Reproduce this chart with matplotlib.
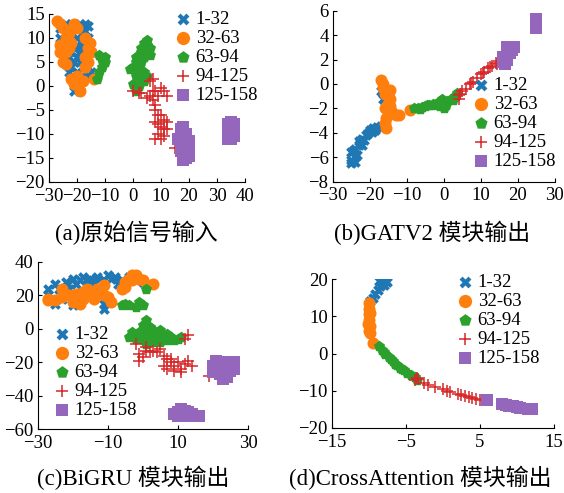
import numpy as np
import matplotlib

matplotlib.use("Agg")
import matplotlib.pyplot as plt

plt.rcParams["font.family"] = ["Liberation Serif", "Noto Sans CJK SC"]
plt.rcParams["font.size"] = 13.5
plt.rcParams["axes.unicode_minus"] = True

labels = ["1-32", "32-63", "63-94", "94-125", "125-158"]
colors = ["#1f77b4", "#ff7f0e", "#2ca02c", "#d62728", "#9467bd"]
markers = ["X", "o", "p", "+", "s"]
sizes = [60, 75, 70, 70, 65]

# (a) raw signal input
a_c1 = [(-26, 12), (-24, 13), (-22, 13), (-19, 13), (-17, 13), (-16, 12.5), (-26, 10),
        (-24, 9), (-22, 11), (-20, 10), (-18, 11), (-16, 10), (-25, 7), (-23, 6),
        (-21, 8), (-19, 7), (-17, 8), (-15, 7), (-22, 4), (-20, 3), (-18, 4), (-16, 2),
        (-21, 1), (-19, 0), (-21, -1), (-18, 2), (-24, 8), (-20, 6), (-17, 5), (-15, 3),
        (-23, 12), (-20, 12), (-18, 9), (-22, 7), (-20, 8.5), (-19, 5), (-23, 3),
        (-16, 4), (-17, 11.5), (-21, 5)]
a_c2 = [(-26, 13), (-25, 12), (-23, 11), (-24, 10), (-22, 9), (-25, 8), (-26, 7),
        (-24, 7), (-25, 5), (-24, 4.5), (-17, 10), (-16, 8), (-15, 7), (-17, 6),
        (-17, 4), (-16, 5), (-20, 2), (-19, 1), (-21, 0.5), (-19, -1), (-18, 1),
        (-14, 1.5), (-21, 13), (-20, 12), (-27, 13.5), (-23, 8), (-15.5, 9),
        (-26, 8.5), (-22, 1.5)]
a_c3 = [(-12, 6.5), (-11, 5.5), (-10, 5), (-11, 4), (-12, 3), (-13, 1.5), (-10, 6),
        (4, 9), (5, 8.5), (6, 8), (3, 8), (5, 7), (2, 6.5), (4, 6), (6, 6.5), (1, 5),
        (3, 5), (0, 4), (-1, 3.5), (2, 3), (4, 3), (1, 2), (3, 1.5), (5, 2), (0, 0.5),
        (2, 0), (4, 1), (1, -1), (3, 7), (2, 4), (5, 9.5), (1, 6)]
a_c4 = [(0, -1), (2, -1.5), (3, -1.5), (6, -2), (7, -1), (8, -1), (9, -2), (10, -0.5),
        (11, -1), (12, -2), (5, -2.5), (7, -3), (8, -4), (6, 1), (7, 1.5), (8, -5),
        (9, -6), (10, -6), (11, -7), (9, -8), (8, -7.5), (10, -8.5), (12, -7.5),
        (11, -9), (9, -10), (10, -11), (8, -11), (11, -10.5), (12, -9), (15, -13)]
a_c5 = [(17, -9), (18, -8.5), (17, -10), (18, -11), (19, -11), (17, -12), (18, -13),
        (19, -12.5), (20, -13), (18, -14), (19, -15), (20, -14.5), (16, -11),
        (20, -11.5), (18, -15.5), (17, -13.5), (19, -10), (34, -8), (35, -7.5),
        (36, -8), (34, -9.5), (35, -10), (36, -9), (34, -11), (35, -11), (36, -10.5)]

# (b) GATV2 output
b_c1 = [(-25, -6.2), (-25, -5.6), (-24, -6), (-24, -5.3), (-23.5, -5.8), (-23, -5),
        (-22.5, -4.8), (-22, -4.5), (-21, -4.2), (-20.5, -4), (-20, -3.8), (-19, -3.6),
        (-18, -3.5), (-17, -3.4), (-17, -0.6), (-16.5, -1.2), (-25, -6.5),
        (-24.5, -5.5), (-23, -4.7), (-21.5, -4.6), (-19.5, -3.9), (-18.5, -3.8),
        (-24, -6.4), (-22, -5.0)]
b_c2 = [(-17, 0.3), (-16.5, -0.3), (-16, -0.8), (-15, -0.8), (-14.5, -1.2), (-15, -1.6),
        (-16, -2), (-14, -2.3), (-13, -2.5), (-12, -2.5), (-15.5, -2.8), (-16, -3.2),
        (-15.5, -3.6), (-14.5, -1.8), (-9, -2.1), (-16.5, 0), (-14.5, -0.5)]
b_c3 = [(-8, -2.0), (-7, -1.95), (-6, -1.9), (-5, -1.8), (-4, -1.75), (-3, -1.6),
        (-2, -1.6), (-1, -1.4), (0, -1.5), (-1, -1.8), (0, -2.0), (1, -1.4),
        (2, -1.2), (3, -1), (3.5, -0.7), (-0.5, -1.2), (-6.5, -2.05), (-4.5, -1.7),
        (-2.5, -1.7), (0.5, -1.7), (2.5, -1.3)]
b_c4 = [(4, -1.2), (4.5, -0.8), (5, -0.6), (6, -0.4), (7, 0), (8, 0.2), (9, 0.5),
        (10, 0.8), (11, 1.0), (12, 1.3), (13, 1.5), (14, 1.7), (15, 1.9), (4, -0.9),
        (7.5, 0.1), (10.5, 0.9), (12.5, 1.4), (14.5, 1.6)]
b_c5 = [(16, 1.8), (16, 2.2), (17, 2.5), (17, 3), (18, 3), (18, 2.5), (19, 3),
        (17, 2), (16.5, 1.6), (18.5, 2.8), (25, 5.3), (25, 4.8), (25, 4.6)]

# (c) BiGRU output
c_c1 = [(-27, 24), (-27, 20), (-25, 27), (-24, 24), (-22, 28), (-21, 24), (-20, 30),
        (-18, 29), (-17, 31), (-15, 30), (-13, 31), (-11, 29), (-10, 32), (-9, 30),
        (-8, 31), (-6, 29), (-4, 31), (-2, 30), (0, 28), (1, 26), (-11, 12),
        (-11, 15), (-20, 14), (-25, 15), (-23, 18), (-19, 27), (-14, 27), (-7, 27),
        (-16, 29)]
c_c2 = [(-27, 18), (-27, 17), (-25, 17), (-23, 19), (-21, 20), (-19, 21), (-17, 22),
        (-16, 24), (-15, 20), (-14, 18), (-18, 15), (-20, 16), (-12, 22), (-11, 20),
        (-10, 19), (-9, 16), (-11, 26), (-6, 24), (-5, 28), (-4, 30), (-3, 29),
        (-2, 32), (-1, 30), (0, 29), (3, 27), (-5, 25), (-23, 24), (-17, 18),
        (-13, 24), (-3, 32)]
c_c3 = [(-5, 15), (-4, 14), (-2, 13), (-1, 16), (0, 14), (1, 24), (-6, 14),
        (1, 5), (0, 2), (2, 1), (3, -1), (1, -2), (-1, -2), (-3, -4), (-4, -5),
        (4, -3), (5, -1), (6, -5), (7, -7), (8, -5), (9, -7), (10, -6), (11, -5),
        (2, -5), (3, -8), (0, -6), (5, -8), (-2, -6), (4, -4), (1, -9), (7, -3),
        (-3, -2)]
c_c4 = [(13, -4), (12, -6), (-2, -9), (-1, -15), (0, -17), (-1, -19), (1, -11),
        (1, -13), (2, -14), (3, -13), (4, -14), (5, -12), (6, -16), (7, -18),
        (8, -20), (9, -22), (10, -20), (11, -24), (12, -21), (13, -19), (14, -22),
        (7, -24), (9, -25), (11, -26), (8, -18), (6, -22), (19, -28)]
c_c5 = [(20, -22), (21, -19), (22, -20), (23, -22), (24, -21), (25, -20), (21, -25),
        (22, -27), (23, -28), (24, -26), (25, -25), (20, -26), (26, -24), (24, -29),
        (22, -24), (26, -20), (23, -30), (9, -51), (10, -50), (11, -48), (12, -49),
        (13, -50), (14, -51), (15, -52), (16, -52), (10, -52), (12, -52)]

# (d) CrossAttention output
d_c1 = [(-8, 19.5), (-7.7, 19.5), (-8.2, 19), (-8.5, 18), (-8.8, 17), (-9.2, 16),
        (-9.5, 15), (-9.8, 14), (-8, 18.5), (-7.5, 19.2), (-8.6, 19.5)]
d_c2 = [(-10, 13.5), (-10, 12), (-10, 10.5), (-10, 9), (-9.8, 7.5), (-10, 6),
        (-9.9, 5.5), (-10.1, 8), (-9.4, 2.9), (-9.9, 11)]
d_c3 = [(-8.7, 2), (-8.3, 1), (-7.8, 0), (-7.3, -1), (-6.8, -2), (-6.2, -3),
        (-5.8, -3.8), (-5.3, -4.5), (-4.8, -5.3), (-4.3, -5.8), (-3.8, -6.3),
        (-3.5, -7), (-6.5, -2.8), (-5.5, -4.2), (-8, 0.5), (-7, -1.5)]
d_c4 = [(-3.5, -6.5), (-3.8, -7), (-3.3, -6.8), (-2.5, -8), (-2, -8.5), (-1, -9),
        (0, -9.5), (0.5, -10), (1, -10.3), (2, -10.8), (2.5, -11.2), (3, -11.5),
        (3.5, -11.8), (4, -12), (4.5, -12.2), (5, -12.5)]
d_c5 = [(6, -12.5), (8, -13.5), (8.5, -13.8), (9, -14), (9.5, -14), (10, -14.3),
        (10.5, -14.6), (11.5, -15), (12, -15)]

W, H = 564, 493


def px_rect(left, right, top, bottom):
    return [left / W, (H - bottom) / H, (right - left) / W, (bottom - top) / H]


panels = [
    dict(data=[a_c1, a_c2, a_c3, a_c4, a_c5], rect=px_rect(49, 245, 14, 182),
         xlim=(-30, 40), ylim=(-20, 15), xticks=np.arange(-30, 41, 10),
         yticks=np.arange(-20, 16, 5), leg=(175, 11),
         caption="(a)原始信号输入", cap=(136, 233)),
    dict(data=[b_c1, b_c2, b_c3, b_c4, b_c5], rect=px_rect(332.7, 554.7, 10.7, 181.7),
         xlim=(-30, 30), ylim=(-8, 6), xticks=np.arange(-30, 31, 10),
         yticks=np.arange(-8, 7, 2), leg=(473, 77),
         caption="(b)GATV2 模块输出", cap=(432, 233)),
    dict(data=[c_c1, c_c2, c_c3, c_c4, c_c5], rect=px_rect(37.7, 248, 262, 429),
         xlim=(-30, 30), ylim=(-60, 40), xticks=[-30, -10, 10, 30],
         yticks=np.arange(-60, 41, 20), leg=(54, 326),
         caption="(c)BiGRU 模块输出", cap=(133, 478)),
    dict(data=[d_c1, d_c2, d_c3, d_c4, d_c5], rect=px_rect(332, 553.7, 279, 428),
         xlim=(-15, 15), ylim=(-20, 20), xticks=[-15, -5, 5, 15],
         yticks=np.arange(-20, 21, 10), leg=(457, 274),
         caption="(d)CrossAttention 模块输出", cap=(420, 478)),
]

fig = plt.figure(figsize=(W / 100, H / 100), dpi=100)

for p in panels:
    ax = fig.add_axes(p["rect"])
    for pts, lab, col, mk, sz in zip(p["data"], labels, colors, markers, sizes):
        arr = np.array(pts, dtype=float)
        ax.scatter(arr[:, 0], arr[:, 1], s=sz, c=col, marker=mk, label=lab,
                   linewidths=1.1 if mk == "+" else 0)
    ax.set_xlim(*p["xlim"])
    ax.set_ylim(*p["ylim"])
    ax.set_xticks(p["xticks"])
    ax.set_yticks(p["yticks"])
    ax.spines["top"].set_visible(False)
    ax.spines["right"].set_visible(False)
    ax.tick_params(direction="in", length=3, width=0.8, pad=3)
    ax.tick_params(axis="x", pad=4)
    lx, ly = p["leg"]
    ax.legend(loc="upper left", bbox_to_anchor=(lx / W, 1 - ly / H),
              bbox_transform=fig.transFigure, frameon=False, borderpad=0,
              borderaxespad=0, handlelength=0.8, handletextpad=0.3,
              labelspacing=0.1, markerscale=1.1, fontsize=13.5)
    cx, cy = p["cap"]
    fig.text(cx / W, 1 - cy / H, p["caption"], ha="center", va="center",
             fontsize=16.5)

fig.savefig("out.png", dpi=100)
